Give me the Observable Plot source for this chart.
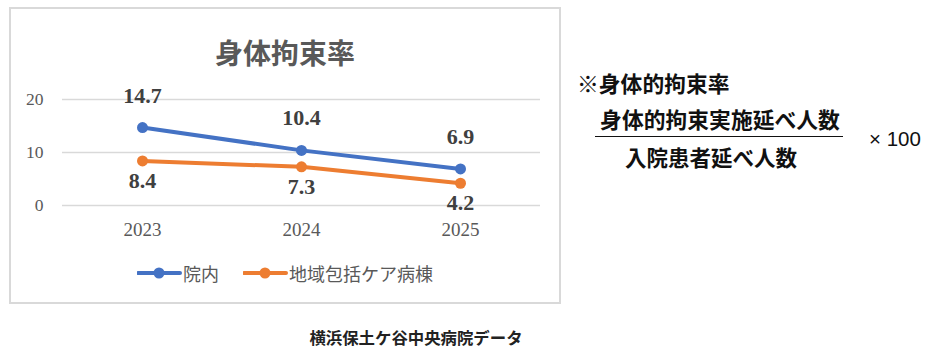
<!DOCTYPE html>
<html><head><meta charset="utf-8">
<script src="https://cdn.jsdelivr.net/npm/d3@7"></script>
<script src="https://cdn.jsdelivr.net/npm/@observablehq/plot@0.6"></script>
<style>
html,body{margin:0;padding:0;background:#fff;}
body{width:952px;height:363px;overflow:hidden;position:relative;font-family:"Noto Sans CJK JP","Noto Sans",sans-serif;}
#box{position:absolute;left:9px;top:7px;width:552px;height:297px;border:2px solid #d9d9d9;box-sizing:border-box;}
#title{position:absolute;left:9px;width:552px;top:33px;text-align:center;font-size:28px;font-weight:700;color:#595959;line-height:38px;}
#chart{position:absolute;left:0;top:70px;}
#legend{position:absolute;top:262px;left:0;height:22px;}
.lg{position:absolute;top:0;height:22px;display:flex;align-items:center;white-space:nowrap;}
.lg svg{flex:none;}
.lg span{font-size:18px;color:#595959;line-height:22px;white-space:nowrap;}
#note{position:absolute;left:577px;top:69px;font-size:21.8px;font-weight:700;color:#111;line-height:28px;white-space:nowrap;}
#num{position:absolute;left:596px;width:248px;top:105px;text-align:center;font-size:21.8px;font-weight:700;color:#111;line-height:28px;white-space:nowrap;}
#bar{position:absolute;left:595px;width:248px;top:136px;height:0;border-top:1.5px solid #111;}
#den{position:absolute;left:587px;width:248px;top:143px;text-align:center;font-size:21.5px;font-weight:700;color:#111;line-height:28px;white-space:nowrap;}
#times{position:absolute;left:869px;top:125px;font-family:"Liberation Sans",Arial,sans-serif;font-size:20.5px;color:#111;line-height:28px;white-space:pre;}
#source{position:absolute;left:280px;width:272px;top:325px;text-align:center;font-size:16.4px;font-weight:700;color:#222;line-height:24px;white-space:nowrap;}
</style>
</head><body>
<div id="box"></div>
<div id="title"></div>
<div id="chart"></div>
<div id="legend"></div>
<div id="note"></div>
<div id="num"></div>
<div id="bar"></div>
<div id="den"></div>
<div id="times"></div>
<div id="source"></div>
<script>
const chartTitle = "身体拘束率";
const years = ["2023", "2024", "2025"];
const inpatient = [14.7, 10.4, 6.9];          // 院内
const communityCare = [8.4, 7.3, 4.2];        // 地域包括ケア病棟
const seriesNames = ["院内", "地域包括ケア病棟"];
const seriesColors = ["#4472C4", "#ED7D31"];
const yTicks = [0, 10, 20];
const noteTitle = "※身体的拘束率";
const numerator = "身体的拘束実施延べ人数";
const denominator = "入院患者延べ人数";
const multiplier = "× 100";
const sourceText = "横浜保土ケ谷中央病院データ";

document.getElementById("title").textContent = chartTitle;
document.getElementById("note").textContent = noteTitle;
document.getElementById("num").textContent = numerator;
document.getElementById("den").textContent = denominator;
document.getElementById("times").textContent = multiplier;
document.getElementById("source").textContent = sourceText;

const data = years.flatMap((yr, i) => [
  {year: yr, value: inpatient[i], series: seriesNames[0]},
  {year: yr, value: communityCare[i], series: seriesNames[1]}
]);
const blue = data.filter(d => d.series === seriesNames[0]);
const orange = data.filter(d => d.series === seriesNames[1]);

const labelStyle = {fontFamily: "Liberation Serif", fontWeight: "bold", fontSize: 22, fill: "#404040"};

const chart = Plot.plot({
  width: 570, height: 180,
  marginLeft: 62, marginRight: 30, marginTop: 29, marginBottom: 45,
  x: {type: "point", domain: years, padding: 0.5, label: null},
  y: {domain: [0, 20], label: null},
  color: {domain: seriesNames, range: seriesColors},
  style: {background: "transparent", overflow: "visible", color: "#595959"},
  marks: [
    Plot.gridY(yTicks, {stroke: "#d9d9d9", strokeOpacity: 1, strokeWidth: 1.3}),
    Plot.axisY(yTicks, {tickSize: 0, tickPadding: 19, fontSize: 17.5, fontFamily: "Liberation Serif", fill: "#595959", label: null}),
    Plot.axisX({tickSize: 0, tickPadding: 17, fontSize: 19, fontFamily: "Liberation Serif", fill: "#595959", label: null}),
    Plot.line(data, {x: "year", y: "value", z: "series", stroke: "series", strokeWidth: 4}),
    Plot.dot(data, {x: "year", y: "value", fill: "series", r: 5.5}),
    Plot.text(blue, {x: "year", y: "value", text: d => d.value.toFixed(1), dy: -32, ...labelStyle}),
    Plot.text(orange, {x: "year", y: "value", text: d => d.value.toFixed(1), dy: 20, ...labelStyle})
  ]
});
document.getElementById("chart").appendChild(chart);

// legend
const legend = document.getElementById("legend");
const legendPos = [137, 243];
seriesNames.forEach((name, i) => {
  const item = document.createElement("div");
  item.className = "lg";
  item.style.left = legendPos[i] + "px";
  item.innerHTML = `<svg width="46" height="22"><line x1="1" y1="11" x2="43" y2="11" stroke="${seriesColors[i]}" stroke-width="4" stroke-linecap="round"/><circle cx="22" cy="11" r="5.5" fill="${seriesColors[i]}"/></svg>`;
  const s = document.createElement("span");
  s.textContent = name;
  item.appendChild(s);
  legend.appendChild(item);
});
</script>
</body></html>
